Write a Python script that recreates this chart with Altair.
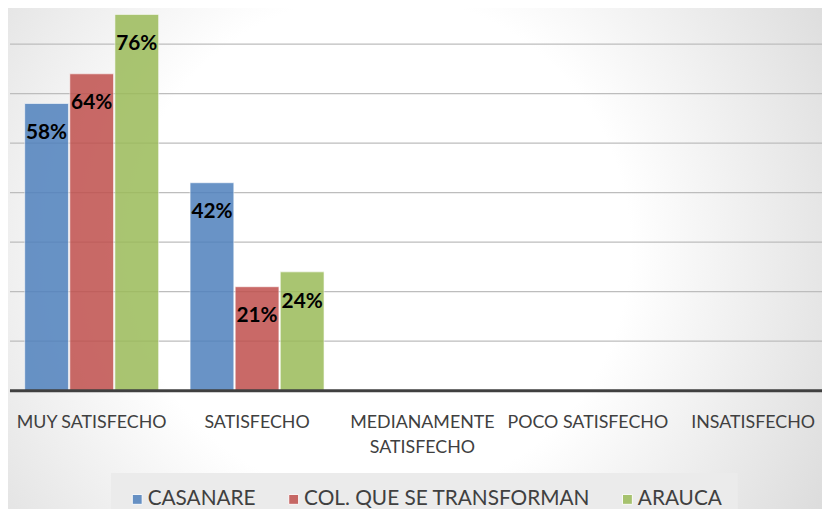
import altair as alt
import pandas as pd

categories = ["MUY SATISFECHO", "SATISFECHO", "MEDIANAMENTE SATISFECHO", "POCO SATISFECHO", "INSATISFECHO"]
series = ["CASANARE", "COL. QUE SE TRANSFORMAN", "ARAUCA"]
casanare = [58, 42, None, None, None]
col_transforman = [64, 21, None, None, None]
arauca = [76, 24, None, None, None]
grid_values = [10, 20, 30, 40, 50, 60, 70]
colors = ["#4F81BD", "#C0504D", "#9BBB59"]

rows = []
for s, vals in zip(series, [casanare, col_transforman, arauca]):
    for c, v in zip(categories, vals):
        if v is not None:
            rows.append({"cat": c, "serie": s, "value": v / 100.0})
df = pd.DataFrame(rows)
grid_df = pd.DataFrame({"value": [g / 100.0 for g in grid_values]})

FONT = "Lato"
W, H = 822, 384

y_scale = alt.Scale(domain=[0, 0.768], nice=False, zero=True)
x_enc = alt.X("cat:N", sort=categories,
              scale=alt.Scale(domain=categories, range=[1, 836], paddingInner=0.19, paddingOuter=0.095),
              axis=alt.Axis(title=None, domain=False, ticks=False, labelAngle=0, zindex=1,
                            labelFont=FONT, labelFontSize=18, labelColor="#404040",
                            labelPadding=23, labelLineHeight=25, labelLimit=300,
                            labelExpr="datum.label == 'MEDIANAMENTE SATISFECHO' ? ['MEDIANAMENTE', 'SATISFECHO'] : datum.label"))
y_enc = alt.Y("value:Q", scale=y_scale, axis=None)
xoff = alt.XOffset("serie:N", sort=series, scale=alt.Scale(domain=series, paddingInner=0.03))
color_enc = alt.Color("serie:N", sort=series,
                      scale=alt.Scale(domain=series, range=colors),
                      legend=alt.Legend(title=None, orient="none", direction="horizontal",
                                        legendX=104, legendY=467, fillColor="#ebebeb",
                                        padding=16, columnPadding=27, labelOffset=0,
                                        symbolType="square", symbolSize=100, symbolOpacity=0.85,
                                        symbolStrokeColor="#ffffff", symbolStrokeWidth=1,
                                        labelFont=FONT, labelFontSize=21, labelColor="#404040",
                                        labelLimit=500))

bg = alt.Chart(pd.DataFrame({"k": [1]})).mark_rect(
    color=alt.Gradient(gradient="radial", x1=0.47, y1=0.49, r1=0.0, x2=0.47, y2=0.49, r2=0.55,
                       stops=[alt.GradientStop(offset=0, color="#ffffff"),
                              alt.GradientStop(offset=0.42, color="#ffffff"),
                              alt.GradientStop(offset=1, color="#d1d1d1")])
).encode(x=alt.value(-8), x2=alt.value(822), y=alt.value(-300), y2=alt.value(800))

grid = alt.Chart(grid_df).mark_rule(color="#bdbdbd", strokeWidth=1.3).encode(
    y=alt.Y("value:Q", scale=y_scale, axis=None), x=alt.value(2), x2=alt.value(W))

base = alt.Chart(df)
bars = base.mark_bar(opacity=0.85, stroke="#ffffff", strokeWidth=1, strokeOpacity=0.6).encode(
    x=x_enc, y=y_enc, xOffset=xoff, color=color_enc)
labels = base.mark_text(font=FONT, fontSize=21, fontWeight="bold", color="#000000",
                        baseline="alphabetic", dy=36).encode(
    x=alt.X("cat:N", sort=categories), y=alt.Y("value:Q", scale=y_scale, axis=None), xOffset=xoff,
    text=alt.Text("value:Q", format=".0%"))
baseline = alt.Chart(pd.DataFrame({"value": [0.0]})).mark_rule(color="#404040", strokeWidth=3).encode(
    y=alt.Y("value:Q", scale=y_scale, axis=None), x=alt.value(2), x2=alt.value(W))

chart = alt.layer(bg, grid, bars, labels, baseline).properties(
    width=W, height=H, autosize=alt.AutoSizeParams(type="none"),
    padding={"left": 0, "top": 0, "right": 0, "bottom": 117}
).configure_view(stroke=None)

chart.save("out.html", embed_options={"renderer": "svg", "actions": False})
